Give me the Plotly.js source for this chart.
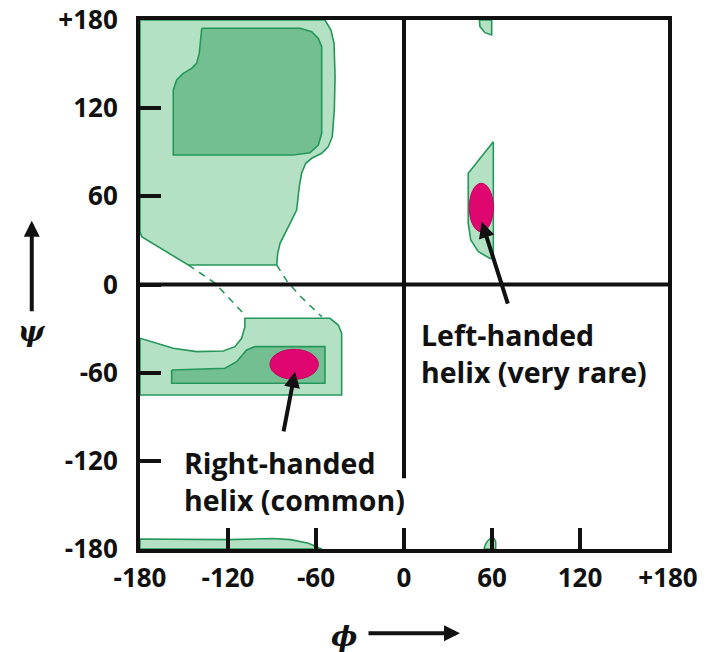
<!DOCTYPE html>
<html><head><meta charset="utf-8">
<script src="https://cdn.plot.ly/plotly-3.0.1.min.js"></script>
<style>html,body{margin:0;padding:0;background:#fff}</style>
</head><body><div id="chart" style="width:708px;height:652px"></div>
<script>
// ---- axis ticks ----
const tickVals = [-180, -120, -60, 0, 60, 120, 180];
const tickText = ['-180', '-120', '-60', '0', '60', '120', '+180'];

// ---- allowed regions (phi, psi) ----
const betaOuterPhi = [-180, -53.9, -49.8, -47.7, -47.0, -47.5, -48.9, -51.6, -56.1, -62.9, -67.0, -69.8, -71.4, -73.2, -77.7, -81.1, -84.5, -86.1, -86.8, -147.1, -178.9, -180, -180];
const betaOuterPsi = [180, 180, 173.2, 164.1, 141.4, 118.8, 100.6, 93.8, 89.3, 85.9, 82.5, 75.7, 66.6, 50.7, 41.6, 34.8, 28.0, 21.2, 13.3, 13.3, 32.5, 36, 180];

const betaCorePhi = [-137.9, -70.9, -62.9, -58.4, -56.1, -56.1, -58.4, -64.1, -75.5, -157.3, -157.3, -155.0, -150.5, -144.8, -141.4, -139.6, -137.9];
const betaCorePsi = [174.4, 174.4, 172.1, 167.5, 161.8, 102.9, 94.9, 89.7, 88.1, 88.1, 132.4, 139.2, 143.7, 147.1, 150.5, 157.3, 174.4];

const alphaOuterPhi = [-180, -168.6, -157.3, -141.4, -123.2, -115.3, -110.7, -108.5, -108.5, -50.5, -44.8, -42.5, -42.5, -180, -180];
const alphaOuterPsi = [-36.6, -40.0, -43.4, -45.7, -45.3, -42.3, -36.6, -28.7, -23.0, -23.0, -27.6, -33.2, -75.2, -75.2, -36.6];

const alphaCorePhi = [-158.4, -122.0, -114.1, -107.3, -101.6, -53.9, -53.9, -158.4, -158.4];
const alphaCorePsi = [-58.2, -57.0, -52.5, -44.6, -42.3, -42.3, -67.2, -67.2, -58.2];

const leftTopPhi = [51.4, 51.8, 55.2, 59.8, 59.8, 51.4];
const leftTopPsi = [180, 175.5, 171.4, 169.8, 180, 180];

const leftMidPhi = [60.9, 43.8, 43.8, 45.5, 50.7, 58.6, 60.9, 60.9];
const leftMidPsi = [97.2, 75.7, 41.6, 30.3, 22.3, 17.8, 17.8, 97.2];

const bottomStripPhi = [-180, -180, -121.1, -89.4, -77.3, -65.1, -57.8, -56, -180];
const bottomStripPsi = [-180, -173.2, -173.6, -172.9, -173.6, -176.1, -179.3, -180, -180];

const bottomSmallPhi = [54.5, 55.5, 57, 59.5, 61.5, 62.5, 62.5, 54.5];
const bottomSmallPsi = [-180, -177, -174.5, -172.5, -173, -175, -180, -180];

// ---- dashed connectors ----
const dash1Phi = [-147.1, -128.9, -109.6];
const dash1Psi = [13.3, 1.0, -19.6];
const dash2Phi = [-86.8, -79.4, -70.9, -56.1];
const dash2Psi = [13.3, 1.7, -7.8, -21.9];

// ---- helices (ellipses): center phi, center psi, radius phi, radius psi ----
const helixCx = [-74.9, 52.7];
const helixCy = [-54.3, 52.4];
const helixRx = [16.5, 8.2];
const helixRy = [10.2, 16.5];

// ---- labels ----
const labelText = ['Right-handed<br>helix (common)', 'Left-handed<br>helix (very rare)'];
const labelX = [-151.5, 10.0];
const labelY = [-134.4, -47.0];
const arrowTip = [[-74.3, -59.3], [53.0, 42.7]];
const arrowTail = [[-82.3, -101], [71.1, -14.0]];

const LIGHT = '#b4e0c4', DARK = '#74bf92', EDGE = '#25975a', PINK = '#e0066f';

function region(x, y, fill) {
  return {type: 'scatter', mode: 'lines', x: x, y: y, fill: 'toself', fillcolor: fill,
    line: {color: EDGE, width: 1.6}, hoverinfo: 'skip', showlegend: false};
}
const traces = [
  region(betaOuterPhi, betaOuterPsi, LIGHT),
  region(betaCorePhi, betaCorePsi, DARK),
  region(alphaOuterPhi, alphaOuterPsi, LIGHT),
  region(alphaCorePhi, alphaCorePsi, DARK),
  region(leftTopPhi, leftTopPsi, LIGHT),
  region(leftMidPhi, leftMidPsi, LIGHT),
  region(bottomStripPhi, bottomStripPsi, LIGHT),
  region(bottomSmallPhi, bottomSmallPsi, LIGHT),
  {type: 'scatter', mode: 'lines', x: dash1Phi, y: dash1Psi, line: {color: EDGE, width: 1.6, dash: '7px,6px'}, hoverinfo: 'skip', showlegend: false},
  {type: 'scatter', mode: 'lines', x: dash2Phi, y: dash2Psi, line: {color: EDGE, width: 1.6, dash: '7px,6px'}, hoverinfo: 'skip', showlegend: false}
];

const shapes = [
  {type: 'line', xref: 'x', yref: 'y', x0: -180, x1: 180, y0: 0, y1: 0, line: {color: '#111', width: 4}},
  {type: 'line', xref: 'x', yref: 'y', x0: 0, x1: 0, y0: 180, y1: -131.9, line: {color: '#111', width: 4}}
];
for (let i = 0; i < helixCx.length; i++) {
  shapes.push({type: 'circle', xref: 'x', yref: 'y',
    x0: helixCx[i] - helixRx[i], x1: helixCx[i] + helixRx[i],
    y0: helixCy[i] - helixRy[i], y1: helixCy[i] + helixRy[i],
    fillcolor: PINK, line: {color: '#c9005f', width: 1}});
}

const labFont = {family: 'Open Sans', size: 28.5, weight: 700, color: '#111'};
const annotations = [];
for (let i = 0; i < labelText.length; i++) {
  annotations.push({xref: 'x', yref: 'y', x: labelX[i], y: labelY[i], text: labelText[i],
    showarrow: false, xanchor: 'left', yanchor: 'middle', align: 'left', font: labFont});
  annotations.push({xref: 'x', yref: 'y', axref: 'x', ayref: 'y', x: arrowTip[i][0], y: arrowTip[i][1],
    ax: arrowTail[i][0], ay: arrowTail[i][1], text: '', showarrow: true,
    arrowhead: 2, arrowsize: 0.8, arrowwidth: 4, arrowcolor: '#111'});
}
// axis title arrows and symbols
const symFont = {family: 'DejaVu Serif', size: 28, weight: 700, style: 'italic', color: '#111'};
annotations.push({xref: 'paper', yref: 'paper', x: -0.205, y: 0.6206, ax: 0, ay: 92, text: '',
  showarrow: true, arrowhead: 2, arrowsize: 0.8, arrowwidth: 4, arrowcolor: '#111'});
annotations.push({xref: 'paper', yref: 'paper', x: -0.205, y: (549 - 331) / 529, text: 'ψ',
  showarrow: false, xanchor: 'center', yanchor: 'middle', font: symFont});
annotations.push({xref: 'paper', yref: 'paper', x: (460 - 140) / 528, y: (549 - 633.3) / 529, ax: -93, ay: 0, text: '',
  showarrow: true, arrowhead: 2, arrowsize: 0.8, arrowwidth: 4, arrowcolor: '#111'});
annotations.push({xref: 'paper', yref: 'paper', x: (343.5 - 140) / 528, y: (549 - 636) / 529, text: 'ϕ',
  showarrow: false, xanchor: 'center', yanchor: 'middle', font: symFont});

const tickFont = {family: 'Open Sans', size: 26, weight: 700, color: '#111'};
const axisCommon = {range: [-180, 180], tickmode: 'array', tickvals: tickVals, ticktext: tickText,
  showgrid: false, zeroline: false, showline: true, linewidth: 4, linecolor: '#111', mirror: true,
  ticks: 'inside', ticklen: 21, tickwidth: 4, tickcolor: '#111', tickfont: tickFont, fixedrange: true};

const layout = {
  width: 708, height: 652,
  margin: {l: 140, r: 40, t: 20, b: 103},
  paper_bgcolor: '#fff', plot_bgcolor: '#fff',
  xaxis: Object.assign({}, axisCommon, {ticklabelstandoff: 3}),
  yaxis: Object.assign({}, axisCommon, {ticklabelstandoff: 13}),
  shapes: shapes, annotations: annotations, showlegend: false
};
Plotly.newPlot('chart', traces, layout, {displayModeBar: false, staticPlot: true});
</script></body></html>
